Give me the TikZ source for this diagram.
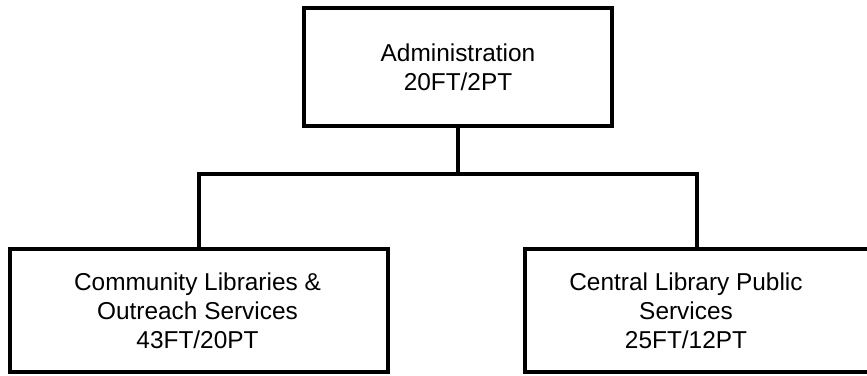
\documentclass[tikz,border=0pt]{standalone}
\usepackage{fontspec}
\setmainfont{Liberation Sans}
\begin{document}
\begin{tikzpicture}[x=1pt,y=-1pt,
  box/.style={draw=black, line width=3.6pt, fill=white, inner sep=0pt, outer sep=0pt},
  txt/.style={align=center, font=\fontsize{24.4}{29}\selectfont, inner sep=0pt},
  conn/.style={draw=black, line width=3.6pt}]
\useasboundingbox (0,0) rectangle (867,375);
\clip (0,0) rectangle (867,375);
% boxes
\node[box, minimum width=308pt, minimum height=118pt] (adm) at (458,67) {};
\node[box, minimum width=378pt, minimum height=123pt] (com) at (199,310.5) {};
\node[box, minimum width=355pt, minimum height=123pt] (cen) at (702.5,310.5) {};
% texts
\node[txt] (admt) at (458,67) {Administration\\20FT/2PT};
\node[txt] (comt) at (197.5,311) {Community Libraries \&\\Outreach Services\\43FT/20PT};
\node[txt] (cent) at (686,311) {Central Library Public\\Services\\25FT/12PT};
% connectors
\coordinate (j) at (458,174);
\coordinate (ctop) at (199,249);
\coordinate (rtop) at (697,249);
\draw[conn] (adm.south) -- (j);
\draw[conn] (ctop) |- (j) -| (rtop);
\end{tikzpicture}
\end{document}
